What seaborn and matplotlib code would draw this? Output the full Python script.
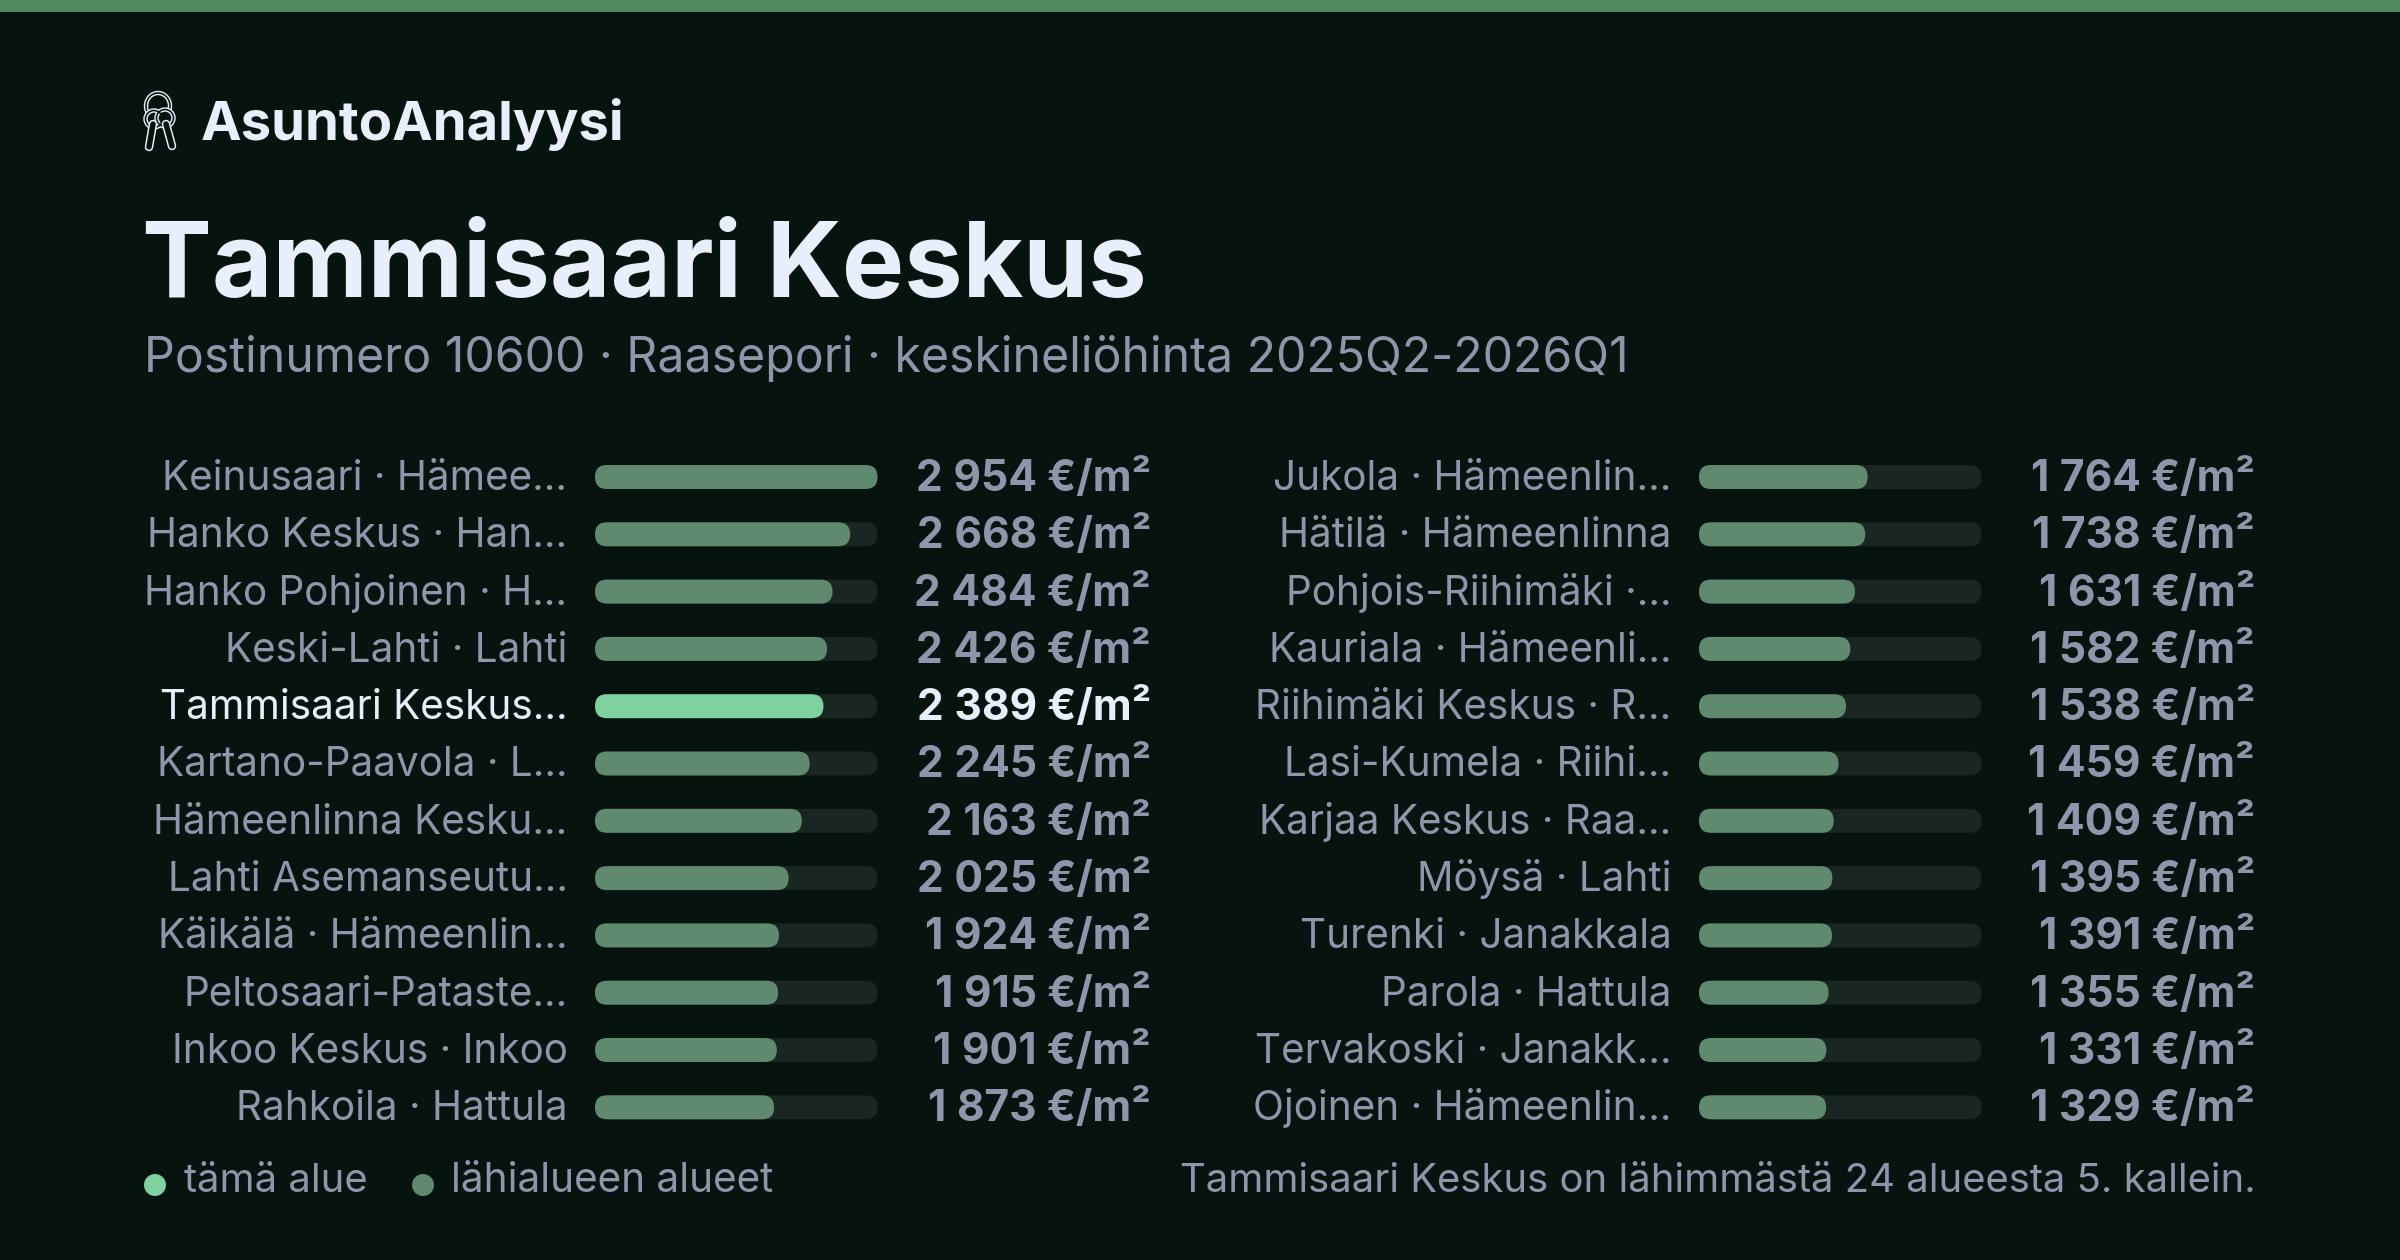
import pandas as pd
import matplotlib
matplotlib.use("Agg")
import matplotlib.pyplot as plt
import seaborn as sns
from matplotlib.patches import FancyBboxPatch, Circle, Ellipse, Rectangle
from matplotlib.lines import Line2D

# data
left_labels = ["Keinusaari · Hämee…", "Hanko Keskus · Han…", "Hanko Pohjoinen · H…", "Keski-Lahti · Lahti",
               "Tammisaari Keskus…", "Kartano-Paavola · L…", "Hämeenlinna Kesku…", "Lahti Asemanseutu…",
               "Käikälä · Hämeenlin…", "Peltosaari-Pataste…", "Inkoo Keskus · Inkoo", "Rahkoila · Hattula"]
left_values = [2954, 2668, 2484, 2426, 2389, 2245, 2163, 2025, 1924, 1915, 1901, 1873]
right_labels = ["Jukola · Hämeenlin…", "Hätilä · Hämeenlinna", "Pohjois-Riihimäki ·…", "Kauriala · Hämeenli…",
                "Riihimäki Keskus · R…", "Lasi-Kumela · Riihi…", "Karjaa Keskus · Raa…", "Möysä · Lahti",
                "Turenki · Janakkala", "Parola · Hattula", "Tervakoski · Janakk…", "Ojoinen · Hämeenlin…"]
right_values = [1764, 1738, 1631, 1582, 1538, 1459, 1409, 1395, 1391, 1355, 1331, 1329]
highlight = "Tammisaari Keskus…"

brand = "AsuntoAnalyysi"
title = "Tammisaari Keskus"
subtitle = "Postinumero 10600 · Raasepori · keskineliöhinta 2025Q2-2026Q1"
legend_own = "tämä alue"
legend_near = "lähialueen alueet"
footnote = "Tammisaari Keskus on lähimmästä 24 alueesta 5. kallein."

BG = "#07130f"
BAND = "#51895f"
TRACK = "#1a2621"
NEAR = "#5f8a70"
OWN = "#7fd1a0"
MUTED = "#8e96ab"
LIGHT = "#e9eefb"

W, H = 2400, 1260
ROW = 57.3
BAR_H = 24
TRACK_W = 282.5
LABEL_SIZE = 40.5
VALUE_SIZE = 42.5

sns.set_theme(style="white")
plt.rcParams["font.family"] = ["Inter", "DejaVu Sans"]

fig = plt.figure(figsize=(W / 100, H / 100), dpi=100, facecolor=BG)


def px(size):
    return size * 0.72


def put(x, y, s, size, color, weight="normal", ha="left"):
    fig.text(x / W, 1 - y / H, s, fontsize=px(size), color=color, fontweight=weight,
             ha=ha, va="baseline")


def round_bars(ax, bars, zorder):
    # seaborn gives square bars, swap them for pill shapes of the same size
    xpp = max(left_values) / TRACK_W
    ypp = 1 / ROW
    for bar in bars:
        if bar.get_width() > 0:
            ax.add_patch(FancyBboxPatch((bar.get_x(), bar.get_y()), bar.get_width(), bar.get_height(),
                                        boxstyle=f"round,pad=0,rounding_size={BAR_H / 2 * xpp}",
                                        mutation_aspect=ypp / xpp, facecolor=bar.get_facecolor(),
                                        edgecolor="none", zorder=zorder, clip_on=False))
        bar.remove()


def column(x0, labels, values):
    ax = fig.add_axes([x0 / W, 1 - (477 + 11.5 * ROW) / H, TRACK_W / W, 12 * ROW / H])
    ax.patch.set_visible(False)
    df = pd.DataFrame({"alue": labels, "hinta": values})
    df["oma"] = df["alue"] == highlight
    df["taysi"] = max(left_values)

    sns.barplot(df, x="taysi", y="alue", order=labels, color=TRACK, saturation=1,
                width=BAR_H / ROW, ax=ax)
    round_bars(ax, list(ax.patches), 1)
    old = list(ax.patches)
    sns.barplot(df, x="hinta", y="alue", order=labels, hue="oma", hue_order=[False, True],
                palette={False: NEAR, True: OWN}, saturation=1, dodge=False, legend=False,
                width=BAR_H / ROW, ax=ax)
    round_bars(ax, [p for p in ax.patches if p not in old], 2)

    ax.set_xlim(0, max(left_values))
    ax.set_ylim(11.5, -0.5)
    ax.axis("off")
    for i, (lab, val) in enumerate(zip(labels, values)):
        col = LIGHT if lab == highlight else MUTED
        ax.annotate(lab, (0, i), xytext=(-27.5, -13), textcoords="offset pixels", ha="right", va="baseline",
                    fontsize=px(LABEL_SIZE), color=col, annotation_clip=False)
        ax.annotate(f"{val:,}".replace(",", "\u2005") + " €/m²", (1, i), xycoords=ax.get_yaxis_transform(),
                    xytext=(273.5, -14), textcoords="offset pixels", ha="right", va="baseline",
                    fontsize=px(VALUE_SIZE), fontweight="bold", color=col, annotation_clip=False)


# overlay in pixel coordinates for band, logo and legend dots
over = fig.add_axes([0, 0, 1, 1])
over.set_xlim(0, W)
over.set_ylim(H, 0)
over.axis("off")
over.patch.set_visible(False)
over.add_patch(Rectangle((0, 0), W, 12, color=BAND, lw=0))

# key ring logo, double stroke
for lw, col in [(4.4, LIGHT), (1.6, BG)]:
    over.add_patch(Ellipse((158, 106), 24, 26, fill=False, ec=col, lw=px(lw)))
for lw, col in [(8.5, LIGHT), (5.5, BG)]:
    over.add_line(Line2D([166, 172], [124, 146], color=col, lw=px(lw), solid_capstyle="round"))
    over.add_line(Line2D([153, 149], [124, 147], color=col, lw=px(lw), solid_capstyle="round"))
for lw, col, fc in [(4.4, LIGHT, BG), (1.6, BG, "none")]:
    over.add_patch(Circle((154, 119), 8.5, fc=fc, ec=col, lw=px(lw)))
    over.add_patch(Circle((165, 118), 8.5, fc=fc, ec=col, lw=px(lw)))

over.scatter([155, 423], [1185, 1185], s=px(22) ** 2, c=[OWN, NEAR], linewidths=0)

put(201, 140, brand, 54.5, LIGHT, "bold")
put(142, 297, title, 104.5, LIGHT, "bold")
put(144, 372, subtitle, 48.2, MUTED)
put(184, 1192, legend_own, 40, MUTED)
put(451, 1192, legend_near, 40.5, MUTED)
put(2256, 1192, footnote, 40, MUTED, ha="right")

column(595, left_labels, left_values)
column(1699, right_labels, right_values)

fig.savefig("out.png", dpi=100, facecolor=BG)
